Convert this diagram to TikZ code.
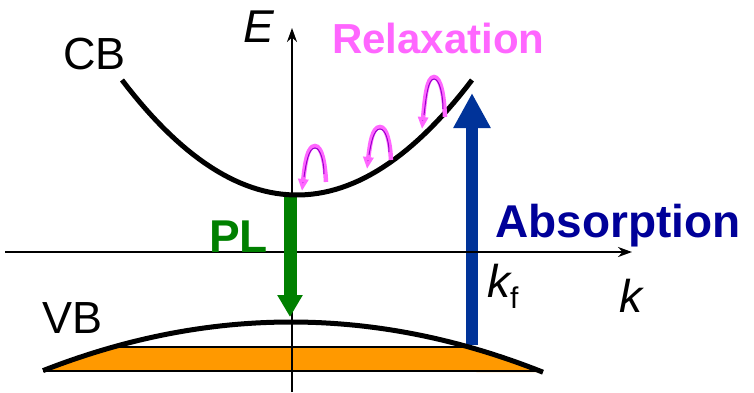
\documentclass[tikz,border=0pt]{standalone}
\usepackage{fontspec}
\setmainfont{Liberation Sans}
\usetikzlibrary{arrows.meta}
\definecolor{plgreen}{RGB}{0,128,0}
\definecolor{absblue}{RGB}{0,51,153}
\definecolor{abstext}{RGB}{0,0,153}
\definecolor{relaxpink}{RGB}{255,102,255}
\definecolor{relaxdark}{RGB}{153,0,204}
\definecolor{vborange}{RGB}{255,153,0}
\begin{document}
\begin{tikzpicture}[x=1pt,y=-1pt,
  lbl/.style={inner sep=0pt, anchor=base west, font=\fontsize{45}{50}\selectfont},
  bandline/.style={line width=5pt},
  axisline/.style={line width=2.2pt, -{Stealth[width=10pt,length=14pt]}},
  relaxarrow/.style={relaxpink, line width=4.5pt, -{Triangle[width=10pt,length=12pt,fill=relaxdark]}},
  relaxcore/.style={relaxdark, line width=1pt},
]
\useasboundingbox (0,0) rectangle (754,392);
% orange filled states in VB
\fill[vborange] plot[domain=43:114, samples=20] (\x,{322+50.6*((\x-291)/253)^2}) -- (468,347)
  -- plot[domain=468:543, samples=20] (\x,{322+50.6*((\x-291)/253)^2}) -- cycle;
% coordinates
\coordinate (Ebot) at (292,392);
\coordinate (Etop) at (292,28);
\coordinate (kleft) at (5,252);
\coordinate (kright) at (632,252);
\coordinate (absA) at (472,345);
\coordinate (absB) at (472,93);
\coordinate (plA) at (290,195);
\coordinate (plB) at (290,317);
% E axis
\draw[axisline] (Ebot) -- (Etop);
% absorption arrow
\draw[absblue, line width=12pt, -{Triangle[width=35pt,length=35pt]}] (absA) -- (absB);
% k axis
\draw[axisline] (kleft) -- (kright);
% PL arrow
\draw[plgreen, line width=13pt, -{Triangle[width=24pt,length=22pt]}] (plA) -- (plB);
% CB band
\draw[bandline] plot[domain=122:472, samples=60] (\x,{195-115*((\x-297)/175)^2});
% VB band
\draw[bandline] plot[domain=43:543, samples=60] (\x,{322+50.6*((\x-291)/253)^2});
% lines bounding the orange region
\coordinate (fl) at (114,347);
\coordinate (fr) at (468,347);
\coordinate (bl) at (43,371);
\coordinate (br) at (543,371);
\draw[line width=1.6pt] (fl) -- (fr);
\draw[line width=2pt] (bl) -- (br);
% relaxation loops
\foreach \xr/\yr/\xt/\yt/\xl/\yl [count=\i] in {326/182/315/146/302/191, 391/160/380/127/367/169, 445/117/434/77/422/129}{
  \coordinate (r\i) at (\xr,\yr);
  \coordinate (t\i) at (\xt,\yt);
  \coordinate (l\i) at (\xl,\yl);
  \draw[relaxarrow] (r\i) .. controls ({\xr-1},{\yt+0.45*(\yr-\yt)}) and ({\xt+0.6*(\xr-\xt)},\yt) .. (t\i)
     .. controls ({\xt-0.6*(\xt-\xl)},\yt) and ({\xl+3},{\yt+0.4*(\yl-\yt)}) .. (l\i);
  \draw[relaxcore] ({\xr-2},{\yr-8}) .. controls ({\xr-2},{\yt+0.45*(\yr-\yt)}) and ({\xt+0.5*(\xr-\xt)},{\yt+2}) .. ({\xt},{\yt+2})
     .. controls ({\xt-0.5*(\xt-\xl)},{\yt+2}) and ({\xl+4},{\yt+0.4*(\yl-\yt)}) .. ({\xl+2},{\yl-14});
}
% labels
\node[lbl] (cb) at (63,69) {CB};
\node[lbl] (vb) at (42,333) {VB};
\node[lbl, font=\fontsize{46}{50}\selectfont\itshape] (elbl) at (243,42) {E};
\node[lbl, font=\fontsize{42}{46}\selectfont\bfseries, text=relaxpink] (relax) at (332,53) {Relaxation};
\node[lbl, font=\fontsize{46}{50}\selectfont\bfseries, text=plgreen] (pl) at (209,252) {PL};
\node[lbl, font=\fontsize{46}{50}\selectfont\bfseries, text=abstext] (absl) at (495,237) {Absorption};
\node[lbl, font=\fontsize{46}{50}\selectfont\itshape] (kf) at (487,297) {k\raisebox{-11pt}{\upshape\fontsize{30}{30}\selectfont f}};
\node[lbl, font=\fontsize{46}{50}\selectfont\itshape] (klbl) at (619,312) {k};
\end{tikzpicture}
\end{document}
